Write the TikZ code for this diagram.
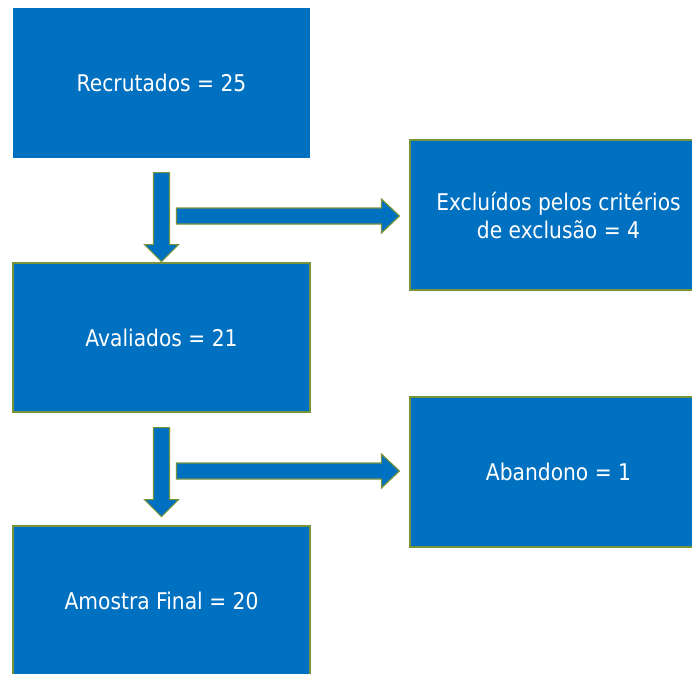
\documentclass[tikz,border=0pt]{standalone}
\usepackage{fontspec}
\setmainfont{DejaVu Sans}[FakeStretch=0.88]
\usetikzlibrary{calc}
\definecolor{boxblue}{HTML}{0070C0}
\definecolor{boxgreen}{HTML}{77933C}
\tikzset{
  flowbox/.style={rectangle, fill=boxblue, draw=boxgreen, line width=1.2pt,
    minimum width=297pt, minimum height=150pt, inner sep=0pt, text=white,
    font=\fontsize{23}{28}\selectfont, align=center},
  blockarrow/.style={fill=boxblue, draw=boxgreen, line width=1.2pt, line join=miter},
}
\newcommand\downblock[1]{%
  \draw[blockarrow] (#1) ++(-8,0) -- ++(16,0) -- ++(0,72) -- ++(9,0) -- ++(-17,17)
    -- ++(-17,-17) -- ++(9,0) -- cycle;}
\newcommand\rightblock[1]{%
  \draw[blockarrow] (#1) ++(0,-8) -- ++(205,0) -- ++(0,-9) -- ++(18,17) -- ++(-18,17)
    -- ++(0,-9) -- ++(-205,0) -- cycle;}
\begin{document}
\begin{tikzpicture}[x=1pt,y=-1pt]
\useasboundingbox (0,0) rectangle (692,673);
\clip (0,0) rectangle (692,673);
\node[flowbox, draw=none] (rec) at (161.5,83) {Recrutados = 25};
\node[flowbox, minimum height=149pt] (ava) at (161.5,337.5) {Avaliados = 21};
\node[flowbox] (fin) at (161.5,601) {Amostra Final = 20};
\node[flowbox] (exc) at (558.5,215) {Excluídos pelos critérios\\de exclusão = 4};
\node[flowbox] (aba) at (558.5,472) {Abandono = 1};
\coordinate (d1) at ($(rec.south)+(0,14)$);
\coordinate (d2) at ($(ava.south)+(0,15)$);
\coordinate (r1) at ($(exc.west)+(-233,1)$);
\coordinate (r2) at ($(aba.west)+(-233,-1)$);
\downblock{d1}
\downblock{d2}
\rightblock{r1}
\rightblock{r2}
\end{tikzpicture}
\end{document}
